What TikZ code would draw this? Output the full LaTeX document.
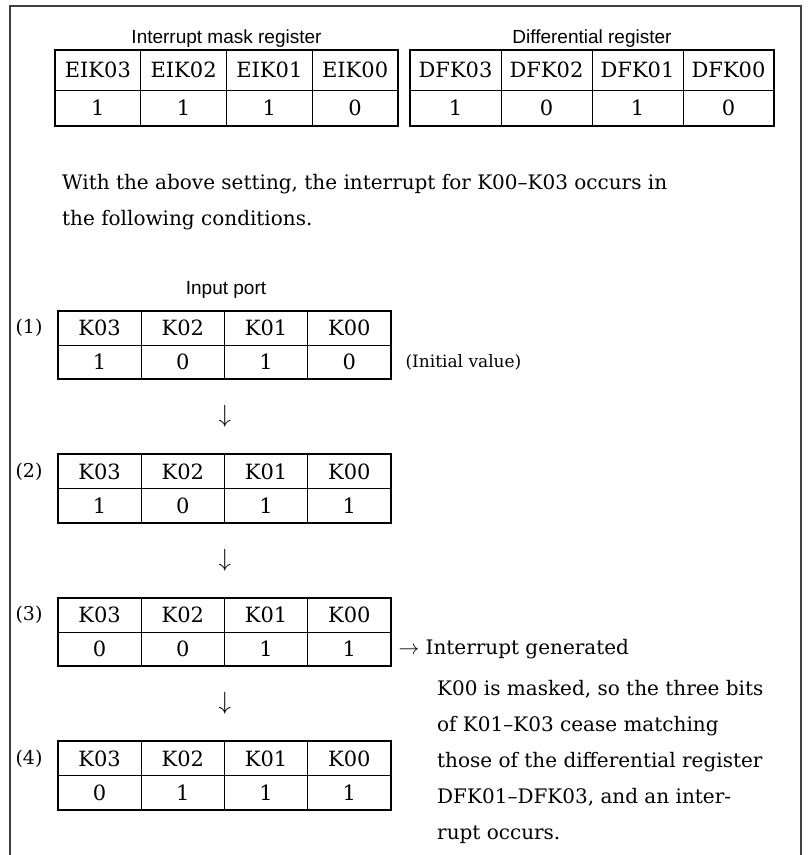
\documentclass[tikz,border=0pt]{standalone}
\usepackage{fontspec}
\setmainfont{DejaVu Serif}
\newfontfamily\headfont{Liberation Sans}
\usetikzlibrary{positioning,calc}

\begin{document}
\begin{tikzpicture}[
  x=1pt, y=1pt,
  regcell/.style={draw, line width=0.7pt, inner sep=0pt, font=\fontsize{21}{25}\selectfont},
  portcell/.style={regcell, minimum width=83.25pt, minimum height=34pt},
  outline/.style={line width=1.9pt},
  head/.style={font=\headfont\fontsize{19}{23}\selectfont, inner sep=0pt},
  txt/.style={font=\fontsize{20}{36}\selectfont, align=left, inner sep=0pt},
  glyph/.style={font=\fontsize{24}{28}\selectfont, inner sep=0pt}
]
% page, frame open at the bottom
\useasboundingbox (0,0) rectangle (809,855);
\draw[black!75, line width=1.3pt] (10,0) -- (10,849) -- (801,849) -- (801,0);

% interrupt mask register
\foreach \n/\v [count=\i from 0] in {03/1,02/1,01/1,00/0} {
  \node[regcell, minimum width=85.75pt, minimum height=40pt] (eik\n) at ({55+85.75*(\i+0.5)}, 785) {EIK\n};
  \node[regcell, minimum width=85.75pt, minimum height=36pt] (eikv\n) at ({55+85.75*(\i+0.5)}, 747) {\v};
}
\draw[outline] (eik03.north west) rectangle (eikv00.south east);
\node[head] (eikhead) at (226.5, 816) {Interrupt mask register};

% differential register
\foreach \n/\v [count=\i from 0] in {03/1,02/0,01/1,00/0} {
  \node[regcell, minimum width=91pt, minimum height=40pt] (dfk\n) at ({410+91*(\i+0.5)}, 785) {DFK\n};
  \node[regcell, minimum width=91pt, minimum height=36pt] (dfkv\n) at ({410+91*(\i+0.5)}, 747) {\v};
}
\draw[outline] (dfk03.north west) rectangle (dfkv00.south east);
\node[head] (dfkhead) at (592, 816) {Differential register};

\node[txt, anchor=north west] (setting) at (62, 681) {With the above setting, the interrupt for K00--K03 occurs in\\the following conditions.};

% input port, steps (1)-(4)
\node[head] (porthead) at (226, 565) {Input port};
\foreach \s/\va/\vb/\vc/\vd [count=\k from 0] in {1/1/0/1/0, 2/1/0/1/1, 3/0/0/1/1, 4/0/1/1/1} {
  \pgfmathsetmacro\ytop{544-143.5*\k}
  \foreach \n/\v [count=\i from 0] in {03/\va,02/\vb,01/\vc,00/\vd} {
    \node[portcell] (k\s-\n) at ({58+83.25*(\i+0.5)}, \ytop-17) {K\n};
    \node[portcell] (v\s-\n) at ({58+83.25*(\i+0.5)}, \ytop-51) {\v};
  }
  \draw[outline] (k\s-03.north west) rectangle (v\s-00.south east);
  \node[txt, font=\fontsize{19}{23}\selectfont, left=15pt of k\s-03] (step\s) {(\s)};
}
\foreach \s in {2,3,4}
  \node[glyph] (dn\s) at ($(k\s-02.north east)+(0,37.5)$) {$\downarrow$};

\node[txt, font=\fontsize{17}{21}\selectfont, right=14pt of v1-00] (init) {(Initial value)};
\node[txt, right=7pt of v3-00] (gen) {{\fontsize{22}{26}\selectfont$\rightarrow$} Interrupt generated};
\node[txt, anchor=north west] (cause) at (437, 175) {K00 is masked, so the three bits\\of K01--K03 cease matching\\those of the differential register\\DFK01--DFK03, and an inter-\\rupt occurs.};
\end{tikzpicture}
\end{document}
